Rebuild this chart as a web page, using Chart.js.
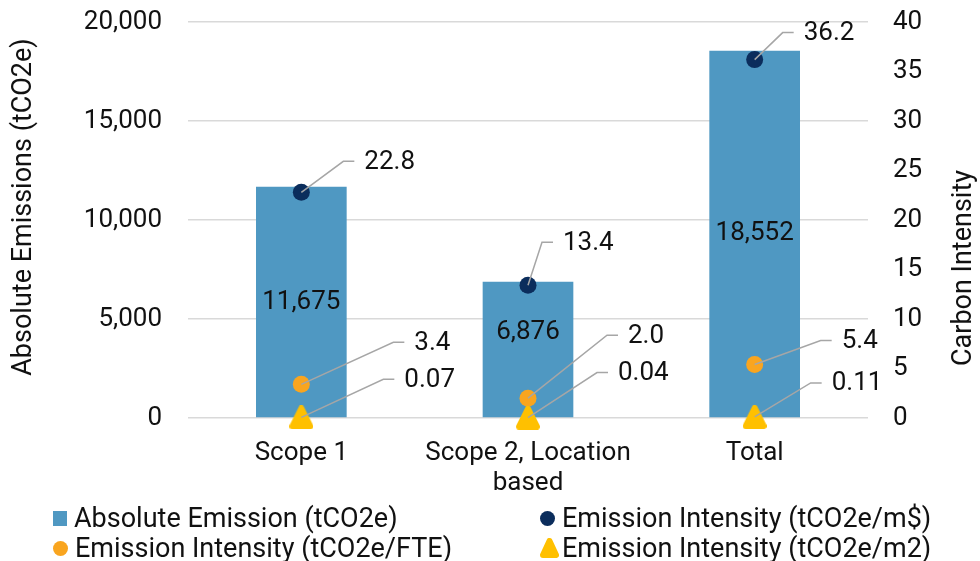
<!DOCTYPE html>
<html>
<head>
<meta charset="utf-8">
<script src="https://cdn.jsdelivr.net/npm/chart.js@4.4.1/dist/chart.umd.min.js"></script>
<style>
  html, body { margin: 0; padding: 0; background: #fff; }
  #wrap { position: relative; width: 980px; height: 561px; font-family: Roboto, sans-serif; }
  #chart { position: absolute; left: 0; top: 0; }
  #legend {
    position: absolute; left: 53px; top: 503px;
    display: grid; grid-template-columns: 487px auto; grid-auto-rows: 30px;
  }
  .item { display: flex; align-items: center; font-size: 27px; line-height: 30px; color: #111; white-space: nowrap; }
  .mark { flex: none; margin-right: 7px; }
  .mark.tri { margin-right: 3px; }
</style>
</head>
<body>
<div id="wrap">
  <canvas id="chart" width="980" height="561"></canvas>
  <div id="legend"></div>
</div>
<script>
// ---- data ----
const categories = [['Scope 1'], ['Scope 2, Location', 'based'], ['Total']];
const absoluteEmission = [11675, 6876, 18552];
const intensityPerRevenue = [22.8, 13.4, 36.2];
const intensityPerFTE = [3.4, 2.0, 5.4];
const intensityPerArea = [0.07, 0.04, 0.11];
const emissionTicks = [0, 5000, 10000, 15000, 20000];
const intensityTicks = [0, 5, 10, 15, 20, 25, 30, 35, 40];
const seriesNames = [
  'Absolute Emission (tCO2e)',
  'Emission Intensity (tCO2e/m$)',
  'Emission Intensity (tCO2e/FTE)',
  'Emission Intensity (tCO2e/m2)'
];
const leftTitle = 'Absolute Emissions (tCO2e)';
const rightTitle = 'Carbon Intensity';

// ---- layout of callout labels (elbow offset from each marker, px) ----
const revenueLeader = [[42, -31], [14, -43], [28, -27]];
const fteLeader = [[92, -42], [79, -63], [66, -24]];
const areaLeader = [[82, -38], [69, -45], [56, -34]];
const barLabelShift = [0, -17, 0];

const COLORS = { bar: '#4f98c2', navy: '#0b2d5c', orange: '#f9a51f', yellow: '#ffc000', text: '#111', grid: '#d9d9d9', leader: '#a6a6a6' };
const FONT = 'Roboto, sans-serif';

function roundedTriangle(w, h, inset, color) {
  const c = document.createElement('canvas');
  c.width = w; c.height = h;
  const g = c.getContext('2d');
  g.beginPath();
  g.moveTo(w / 2, inset);
  g.lineTo(w - inset, h - inset);
  g.lineTo(inset, h - inset);
  g.closePath();
  g.fillStyle = color; g.strokeStyle = color;
  g.lineWidth = inset * 2; g.lineJoin = 'round';
  g.fill(); g.stroke();
  return c;
}
const triangleMarker = roundedTriangle(24, 24, 3, COLORS.yellow);

// callout lines + value text for every mark
const calloutLabels = {
  id: 'calloutLabels',
  afterDatasetsDraw(chart) {
    const ctx = chart.ctx;
    ctx.save();
    ctx.font = '26px ' + FONT;
    ctx.fillStyle = COLORS.text;
    ctx.textBaseline = 'middle';
    chart.data.datasets.forEach((ds, i) => {
      const meta = chart.getDatasetMeta(i);
      if (ds.type === 'bar') {
        ctx.textAlign = 'center';
        meta.data.forEach((bar, j) => {
          const p = bar.getProps(['x', 'y', 'base'], true);
          ctx.fillText(ds.data[j].toLocaleString('en-US'), p.x, (p.y + p.base) / 2 + barLabelShift[j]);
        });
      } else {
        meta.data.forEach((pt, j) => {
          const [dx, dy] = ds.leader[j];
          const ex = pt.x + dx, ey = pt.y + dy;
          ctx.strokeStyle = COLORS.leader;
          ctx.lineWidth = 1.5;
          ctx.beginPath();
          ctx.moveTo(pt.x, pt.y);
          ctx.lineTo(ex, ey);
          ctx.lineTo(ex + 11, ey);
          ctx.stroke();
          ctx.textAlign = 'left';
          ctx.fillText(ds.data[j].toFixed(ds.decimals), ex + 21, ey + 1);
        });
      }
    });
    ctx.restore();
  }
};

// rotated axis titles, both reading bottom-to-top
const axisTitles = {
  id: 'axisTitles',
  afterDraw(chart) {
    const ctx = chart.ctx;
    ctx.save();
    ctx.font = '27px ' + FONT;
    ctx.fillStyle = COLORS.text;
    ctx.textAlign = 'center';
    ctx.textBaseline = 'middle';
    [[24, 207, leftTitle], [964, 268, rightTitle]].forEach(([x, y, t]) => {
      ctx.save();
      ctx.translate(x, y);
      ctx.rotate(-Math.PI / 2);
      ctx.fillText(t, 0, 0);
      ctx.restore();
    });
    ctx.restore();
  }
};

const tickFont = { family: FONT, size: 26, lineHeight: 1.15 };

// fixed axis thickness; tick-label overhang should not push the plot area
function fixVertical(width) {
  return s => { s.width = width; s.paddingTop = 0; s.paddingBottom = 0; };
}

const chart = new Chart(document.getElementById('chart'), {
  data: {
    labels: categories,
    datasets: [
      {
        type: 'bar', label: seriesNames[0], data: absoluteEmission, yAxisID: 'y',
        backgroundColor: COLORS.bar, barPercentage: 0.4, categoryPercentage: 1, order: 3
      },
      {
        type: 'line', label: seriesNames[1], data: intensityPerRevenue, yAxisID: 'y1', showLine: false, clip: false,
        pointStyle: 'circle', pointRadius: 8.5, pointBackgroundColor: COLORS.navy, pointBorderWidth: 0,
        leader: revenueLeader, decimals: 1, order: 2
      },
      {
        type: 'line', label: seriesNames[2], data: intensityPerFTE, yAxisID: 'y1', showLine: false, clip: false,
        pointStyle: 'circle', pointRadius: 8.5, pointBackgroundColor: COLORS.orange, pointBorderWidth: 0,
        leader: fteLeader, decimals: 1, order: 1
      },
      {
        type: 'line', label: seriesNames[3], data: intensityPerArea, yAxisID: 'y1', showLine: false, clip: false,
        pointStyle: triangleMarker, pointRadius: 12, pointBackgroundColor: COLORS.yellow, pointBorderWidth: 0,
        leader: areaLeader, decimals: 2, order: 0
      }
    ]
  },
  options: {
    responsive: false,
    animation: false,
    layout: { padding: { top: 22, left: 0, right: 0, bottom: 0 } },
    plugins: { legend: { display: false }, tooltip: { enabled: false } },
    scales: {
      x: {
        grid: { display: false },
        border: { display: false },
        ticks: { font: tickFont, color: COLORS.text, padding: 13, maxRotation: 0, autoSkip: false },
        afterFit: s => { s.height = 143; }
      },
      y: {
        position: 'left', min: 0, max: 20000,
        afterBuildTicks: s => { s.ticks = emissionTicks.map(v => ({ value: v })); },
        ticks: { font: tickFont, color: COLORS.text, padding: 26, callback: v => v.toLocaleString('en-US') },
        grid: { color: COLORS.grid, lineWidth: 1.5, drawTicks: false },
        border: { display: false },
        afterFit: fixVertical(188)
      },
      y1: {
        position: 'right', min: 0, max: 40,
        afterBuildTicks: s => { s.ticks = intensityTicks.map(v => ({ value: v })); },
        ticks: { font: tickFont, color: COLORS.text, padding: 25 },
        grid: { display: false, drawTicks: false },
        border: { display: false },
        afterFit: fixVertical(112)
      }
    }
  },
  plugins: [calloutLabels, axisTitles]
});

// legend in a two-column grid, built from the chart's datasets
(function buildLegend() {
  const host = document.getElementById('legend');
  chart.data.datasets.forEach((ds, i) => {
    const item = document.createElement('div');
    item.className = 'item';
    let mark;
    if (ds.type === 'bar') {
      mark = document.createElement('div');
      mark.style.cssText = `width:14px;height:15px;background:${ds.backgroundColor}`;
    } else if (ds.pointStyle === 'circle') {
      mark = document.createElement('div');
      mark.style.cssText = `width:15px;height:15px;border-radius:50%;background:${ds.pointBackgroundColor}`;
    } else {
      mark = roundedTriangle(19, 20, 3, COLORS.yellow);
      mark.classList.add('tri');
    }
    mark.classList.add('mark');
    const text = document.createElement('span');
    text.textContent = ds.label;
    item.appendChild(mark);
    item.appendChild(text);
    host.appendChild(item);
  });
})();
</script>
</body>
</html>
